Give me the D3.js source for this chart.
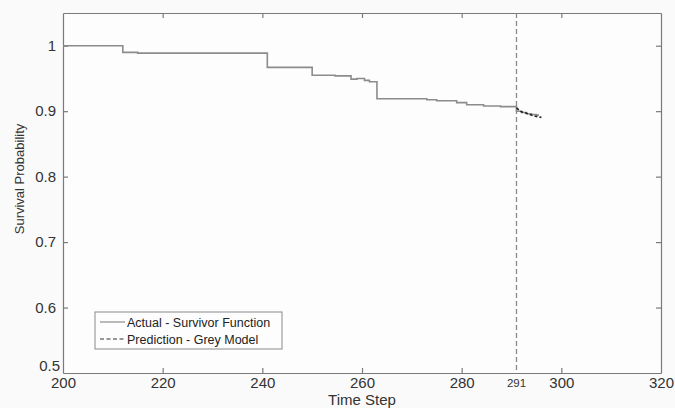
<!DOCTYPE html>
<html><head><meta charset="utf-8">
<script src="https://cdn.jsdelivr.net/npm/d3@7"></script>
<style>
html,body{margin:0;padding:0;background:#fafafa;}
svg{display:block;font-family:"Liberation Sans",Arial,sans-serif;}
</style></head>
<body><svg id="c" width="675" height="408"></svg>
<script>
// Actual survivor function (step), [time, survival probability]
const actualTimes  = [200, 212, 215, 241, 250, 254.6, 257.8, 259, 260.5, 261.5, 263, 273, 275, 279, 281, 284.4, 287.8, 291, 292, 293, 294, 295];
const actualValues = [1.0, 0.9898, 0.9887, 0.967, 0.955, 0.954, 0.949, 0.950, 0.947, 0.945, 0.919, 0.9174, 0.916, 0.913, 0.9098, 0.908, 0.907, 0.900, 0.898, 0.896, 0.895, 0.894];
const actualEnd = 295.5;
// Grey model prediction
const predTimes  = [291, 292, 293, 294, 295, 296];
const predValues = [0.905, 0.899, 0.897, 0.894, 0.892, 0.8905];
const xTicks = [200, 220, 240, 260, 280, 300, 320];
const yTicks = [0.5, 0.6, 0.7, 0.8, 0.9, 1];
const markTime = 291;

const svg = d3.select("#c");
const L = 63, R = 661, T = 13, B = 373;
const x = d3.scaleLinear().domain([200, 320]).range([L, R]);
const y = d3.scaleLinear().domain([0.5, 1.05]).range([B, T]);
const axisCol = "#7a7a7a";

svg.append("rect").attr("x", L).attr("y", T).attr("width", R - L).attr("height", B - T)
  .attr("fill", "#fdfdfd");

const fmt = d => String(d);
const gx = svg.append("g").attr("transform", `translate(0,${B})`)
  .call(d3.axisBottom(x).tickValues(xTicks).tickSizeInner(-5).tickSizeOuter(0).tickPadding(4).tickFormat(fmt));
const gxt = svg.append("g").attr("transform", `translate(0,${T})`)
  .call(d3.axisTop(x).tickValues(xTicks).tickSizeInner(-5).tickSizeOuter(0).tickFormat(""));
const gy = svg.append("g").attr("transform", `translate(${L},0)`)
  .call(d3.axisLeft(y).tickValues(yTicks).tickSizeInner(-5).tickSizeOuter(0).tickPadding(7).tickFormat(fmt));
const gyr = svg.append("g").attr("transform", `translate(${R},0)`)
  .call(d3.axisRight(y).tickValues(yTicks).tickSizeInner(-5).tickSizeOuter(0).tickFormat(""));
[gx, gxt, gy, gyr].forEach(g => {
  g.select(".domain").attr("stroke", axisCol).attr("stroke-width", 1.2);
  g.selectAll(".tick line").attr("stroke", axisCol).attr("stroke-width", 1.2);
  g.selectAll(".tick text").attr("fill", "#333").attr("font-size", 15)
    .attr("font-family", '"Liberation Sans",Arial,sans-serif');
});
gx.selectAll(".tick text").attr("dy", "0.71em");
gxt.selectAll(".tick line").filter(d => d === 200 || d === 320).remove();
gyr.selectAll(".tick line").filter(d => d === 0.5).remove();
gx.selectAll(".tick line").filter(d => d === 200 || d === 320).remove();
gy.selectAll(".tick line").filter(d => d === 0.5).remove();
gy.selectAll(".tick text").filter(d => d === 0.5).attr("dy", "-0.2em").attr("x", -3);

// vertical dashed marker
svg.append("line").attr("x1", x(markTime)).attr("x2", x(markTime)).attr("y1", T).attr("y2", B)
  .attr("stroke", "#8a8a8a").attr("stroke-width", 1.3).attr("stroke-dasharray", "5,3");
svg.append("text").attr("x", x(markTime)).attr("y", B + 14).attr("text-anchor", "middle")
  .attr("font-size", 11.5).attr("fill", "#333").text(String(markTime));

// actual step line
const actualPts = actualTimes.map((t, i) => [t, actualValues[i]]);
actualPts.push([actualEnd, actualValues[actualValues.length - 1]]);
const stepLine = d3.line().x(d => x(d[0])).y(d => y(d[1])).curve(d3.curveStepAfter);
svg.append("path").datum(actualPts).attr("d", stepLine)
  .attr("fill", "none").attr("stroke", "#8c8c8c").attr("stroke-width", 1.6);

// prediction dashed
const predPts = predTimes.map((t, i) => [t, predValues[i]]);
svg.append("path").datum(predPts).attr("d", d3.line().x(d => x(d[0])).y(d => y(d[1])))
  .attr("fill", "none").attr("stroke", "#222").attr("stroke-width", 1.6).attr("stroke-dasharray", "3,2");

// axis titles
svg.append("text").attr("x", (L + R) / 2).attr("y", 405).attr("text-anchor", "middle")
  .attr("font-size", 15).attr("fill", "#333").text("Time Step");
svg.append("text").attr("transform", `translate(24,179) rotate(-90)`)
  .attr("text-anchor", "middle").attr("font-size", 13).attr("fill", "#333").text("Survival Probability");

// legend
const lg = svg.append("g");
lg.append("rect").attr("x", 95).attr("y", 312).attr("width", 187).attr("height", 37)
  .attr("fill", "#fdfdfd").attr("stroke", "#8a8a8a").attr("stroke-width", 1);
const items = [
  {label: "Actual - Survivor Function", stroke: "#8c8c8c", dash: null},
  {label: "Prediction - Grey Model", stroke: "#333", dash: "4,2.5"}
];
items.forEach((it, i) => {
  const yy = 322 + i * 17;
  lg.append("line").attr("x1", 100).attr("x2", 125).attr("y1", yy).attr("y2", yy)
    .attr("stroke", it.stroke).attr("stroke-width", 1.2).attr("stroke-dasharray", it.dash);
  lg.append("text").attr("x", 127).attr("y", yy + 4.5).attr("font-size", 12.5).attr("fill", "#222").text(it.label);
});
</script></body></html>
